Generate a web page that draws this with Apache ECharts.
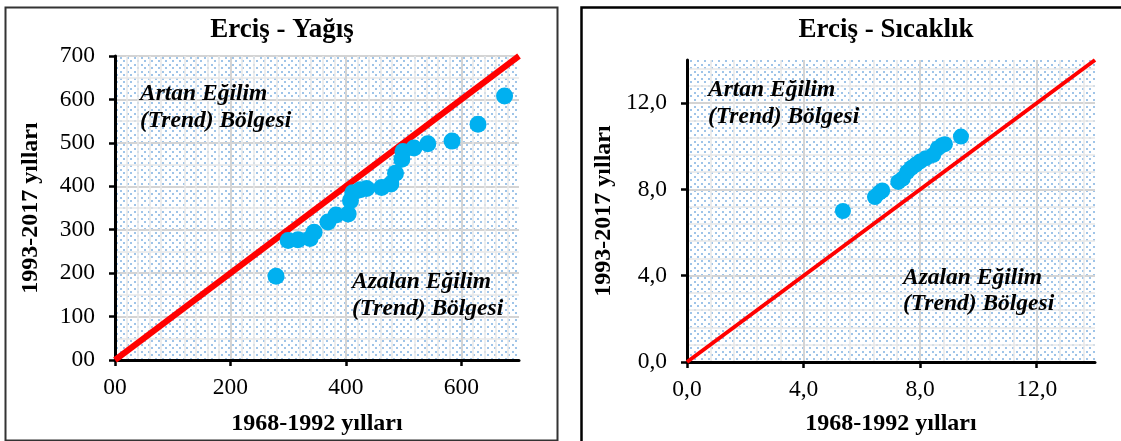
<!DOCTYPE html>
<html>
<head>
<meta charset="utf-8">
<script src="https://cdn.jsdelivr.net/npm/echarts@6/dist/echarts.min.js"></script>
<style>
  html, body { margin: 0; padding: 0; background: #fff; }
  #chart { width: 1121px; height: 441px; }
</style>
</head>
<body>
<div id="chart"></div>
<script>
// Erciş - Yağış (1968-1992 vs 1993-2017)
const yagisOld = [279, 300, 317, 338, 345, 369, 383, 404, 408, 412, 425, 436, 462, 478, 486, 497, 499, 518, 542, 584, 629, 675];
const yagisNew = [193, 275, 277, 280, 294, 318, 334, 336, 367, 385, 392, 395, 397, 405, 430, 462, 480, 488, 498, 504, 543, 608];
const yagisLine = [0, 700];
const yagisXTicks = [0, 200, 400, 600];
const yagisYTicks = [0, 100, 200, 300, 400, 500, 600, 700];

// Erciş - Sıcaklık
const sicakOld = [5.35, 6.45, 6.6, 6.7, 7.25, 7.4, 7.55, 7.7, 7.85, 8.0, 8.2, 8.45, 8.6, 8.75, 8.85, 9.4];
const sicakNew = [7.0, 7.65, 7.85, 7.95, 8.35, 8.5, 8.8, 9.0, 9.15, 9.3, 9.45, 9.6, 9.9, 10.05, 10.1, 10.45];
const sicakLine = [0, 14];
const sicakTicks = [0, 4, 8, 12];

const serif = '"Liberation Serif", "Times New Roman", serif';
const tickFont = 23.5;

// dotted background like the excel pattern fill
function dotPattern() {
  const c = document.createElement('canvas');
  c.width = 7; c.height = 7;
  const ctx = c.getContext('2d');
  ctx.fillStyle = '#fff';
  ctx.fillRect(0, 0, 7, 7);
  ctx.fillStyle = '#9fc4e8';
  ctx.fillRect(1, 1, 2, 2);
  ctx.fillRect(4, 4, 2, 2);
  return { image: c, repeat: 'repeat' };
}

const zip = (a, b) => a.map((v, i) => [v, b[i]]);

function valueAxis(gridIndex, max, interval, ticks, fmt, margin, extra) {
  return Object.assign({
    type: 'value', gridIndex: gridIndex, min: 0, max: max, interval: interval,
    axisLine: { onZero: false, lineStyle: { color: '#000', width: 3 } },
    axisTick: { show: true, inside: false, length: 6, customValues: ticks, lineStyle: { color: '#000', width: 2.5 } },
    axisLabel: { customValues: ticks, formatter: fmt, color: '#000', fontFamily: serif, fontSize: tickFont, margin: margin },
    splitLine: { show: true, lineStyle: { color: '#d4d4d4', width: 2 } },
    minorTick: { show: false, splitNumber: 5 },
    minorSplitLine: { show: true, lineStyle: { color: '#e8e8e8', width: 1.5 } },
    nameLocation: 'middle',
    nameTextStyle: { color: '#000', fontFamily: serif, fontWeight: 'bold', fontSize: 24 }
  }, extra);
}

const fmtYagis = v => (v === 0 ? '00' : String(v));
const fmtSicak = v => v.toFixed(1).replace('.', ',');

const chart = echarts.init(document.getElementById('chart'), null, { renderer: 'canvas' });

const note = (x, y, text) => ({
  type: 'text', x: x, y: y, z: 10,
  style: { text: text, font: 'italic bold 23.5px ' + serif, fill: '#000', textVerticalAlign: 'middle' }
});

chart.setOption({
  animation: false,
  backgroundColor: '#fff',
  grid: [
    { left: 115, top: 56, width: 404, height: 306, show: true, borderWidth: 0, backgroundColor: dotPattern() },
    { left: 687, top: 60, width: 408, height: 308, show: true, borderWidth: 0, backgroundColor: dotPattern() }
  ],
  xAxis: [
    valueAxis(0, 700, 100, yagisXTicks, fmtYagis, 16, { name: '1968-1992 yılları', nameGap: 52 }),
    valueAxis(1, 14, 4, sicakTicks, fmtSicak, 16, { name: '1968-1992 yılları', nameGap: 50 })
  ],
  yAxis: [
    valueAxis(0, 700, 100, yagisYTicks, fmtYagis, 20, {
      name: '1993-2017 yılları', nameGap: 72,
      minorTick: { show: false, splitNumber: 2 }
    }),
    valueAxis(1, 14, 4, sicakTicks, fmtSicak, 20, { name: '1993-2017 yılları', nameGap: 71 })
  ],
  series: [
    {
      type: 'line', xAxisIndex: 0, yAxisIndex: 0, data: zip(yagisLine, yagisLine),
      symbol: 'none', lineStyle: { color: '#ff0000', width: 6 }, z: 2
    },
    {
      type: 'scatter', xAxisIndex: 0, yAxisIndex: 0, data: zip(yagisOld, yagisNew),
      symbolSize: 17, itemStyle: { color: '#00b0f0', opacity: 1 }, z: 3
    },
    {
      type: 'line', xAxisIndex: 1, yAxisIndex: 1, data: zip(sicakLine, sicakLine),
      symbol: 'none', lineStyle: { color: '#ff0000', width: 4 }, z: 2
    },
    {
      type: 'scatter', xAxisIndex: 1, yAxisIndex: 1, data: zip(sicakOld, sicakNew),
      symbolSize: 16, itemStyle: { color: '#00b0f0', opacity: 1 }, z: 3
    }
  ],
  graphic: [
    // panel frames
    { type: 'rect', shape: { x: 5.5, y: 7.5, width: 552, height: 433 }, style: { fill: null, stroke: '#333', lineWidth: 2 }, z: 0 },
    { type: 'rect', shape: { x: 581.5, y: 7.5, width: 620, height: 500 }, style: { fill: null, stroke: '#000', lineWidth: 2.5 }, z: 0 },
    // titles
    { type: 'text', x: 282, y: 30, z: 10, style: { text: 'Erciş - Yağış', font: 'bold 27px ' + serif, fill: '#000', textAlign: 'center', textVerticalAlign: 'middle' } },
    { type: 'text', x: 886, y: 30, z: 10, style: { text: 'Erciş - Sıcaklık', font: 'bold 27px ' + serif, fill: '#000', textAlign: 'center', textVerticalAlign: 'middle' } },
    // region notes
    note(140, 94, 'Artan Eğilim'),
    note(140, 121, '(Trend) Bölgesi'),
    note(352, 282, 'Azalan Eğilim'),
    note(352, 309, '(Trend) Bölgesi'),
    note(708, 90, 'Artan Eğilim'),
    note(708, 117, '(Trend) Bölgesi'),
    note(903, 278, 'Azalan Eğilim'),
    note(903, 304, '(Trend) Bölgesi')
  ]
});
</script>
</body>
</html>
